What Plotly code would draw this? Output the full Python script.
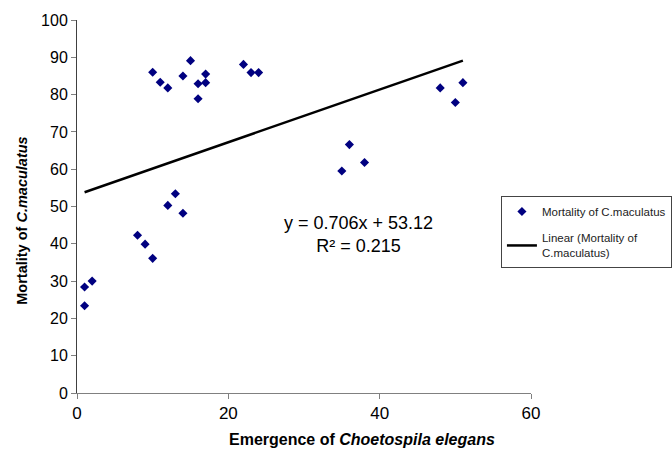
import plotly.graph_objects as go
import numpy as np

# Data
emergence = [1, 1, 2, 8, 9, 10, 12, 13, 14,
             10, 11, 12, 14, 15, 16, 16, 17, 17, 22, 23, 24,
             48, 51, 50, 36, 35, 38]
mortality = [23.4, 28.4, 30.0, 42.3, 39.9, 36.1, 50.3, 53.4, 48.2,
             86.0, 83.3, 81.8, 85.0, 89.1, 82.9, 78.9, 85.5, 83.2, 88.1, 85.9, 85.9,
             81.8, 83.2, 77.9, 66.6, 59.5, 61.8]

# Linear trendline parameters (as printed on the chart)
slope = 0.706
intercept = 53.12
r_squared = 0.215

x_ticks = [0, 20, 40, 60]
y_ticks = [0, 10, 20, 30, 40, 50, 60, 70, 80, 90, 100]

fit_x = np.array([min(emergence), max(emergence)])
fit_y = slope * fit_x + intercept

font_family = "Liberation Sans, Arial, sans-serif"

W, H = 684, 452
ML, MR, MT, MB = 77, 142, 20, 59
PW, PH = W - ML - MR, H - MT - MB

fig = go.Figure()
fig.add_trace(go.Scatter(
    x=emergence, y=mortality, mode="markers",
    name="Mortality of C.maculatus", legendgroup="a",
    marker=dict(symbol="diamond", size=7, color="#000080"),
))
fig.add_trace(go.Scatter(
    x=fit_x, y=fit_y, mode="lines",
    name="Linear (Mortality of<br>C.maculatus)", legendgroup="b",
    line=dict(color="black", width=2.5),
))

fig.add_annotation(
    x=37.2, y=42.6, xref="x", yref="y",
    text=f"y = {slope}x + {intercept}<br>R² = {r_squared}",
    showarrow=False, align="center",
    font=dict(family=font_family, size=18, color="black"),
)

# Axis titles positioned as in the reference
fig.add_annotation(
    x=(368.6 - ML) / PW, y=-(450 - (H - MB)) / PH, xref="paper", yref="paper",
    xanchor="center", yanchor="bottom",
    text="<b>Emergence of <i>Choetospila elegans</i></b>",
    showarrow=False, font=dict(family=font_family, size=16, color="black"),
)
fig.add_annotation(
    x=-(ML - 20.4) / PW, y=((H - MB) - 221) / PH, xref="paper", yref="paper",
    xanchor="center", yanchor="middle", textangle=-90,
    text="<b>Mortality of <i>C.maculatus</i></b>",
    showarrow=False, font=dict(family=font_family, size=14.5, color="black"),
)

fig.update_layout(
    width=W, height=H,
    margin=dict(l=ML, r=MR, t=MT, b=MB),
    paper_bgcolor="white", plot_bgcolor="white",
    font=dict(family=font_family, color="black"),
    showlegend=True,
    legend=dict(
        x=(511.2 - ML) / PW, y=((H - MB) - 196) / PH, xanchor="left", yanchor="top",
        bordercolor="#444", borderwidth=1, bgcolor="white",
        font=dict(family=font_family, size=11.5, color="#222"),
        tracegroupgap=8,
    ),
)

fig.update_xaxes(
    range=[0, 60], tickvals=x_ticks, automargin=False,
    showline=True, linecolor="#808080", linewidth=1,
    ticks="outside", ticklen=5, tickcolor="#808080",
    showgrid=False, zeroline=False,
    tickfont=dict(size=17, color="black"),
)
fig.update_yaxes(
    range=[0, 100], tickvals=y_ticks, automargin=False,
    showline=True, linecolor="#404040", linewidth=1,
    ticks="outside", ticklen=5, tickcolor="#808080",
    showgrid=False, zeroline=False,
    tickfont=dict(size=16, color="black"),
)

fig.write_html(
    "out.html",
    config={"displayModeBar": False},
    post_script="document.body.style.margin='0';document.body.style.overflow='hidden';",
)
